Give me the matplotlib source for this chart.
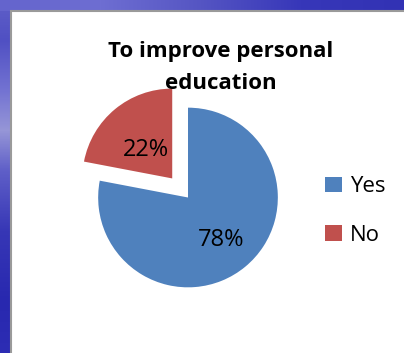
import numpy as np
import matplotlib.pyplot as plt
from matplotlib.patches import Rectangle

plt.rcParams['font.family'] = ['Open Sans', 'DejaVu Sans']

# data
labels = ["Yes", "No"]
shares = [78, 22]
colors = ["#4F81BD", "#C0504D"]
explode = [0, 0.27]
label_dist = [0.57, 0.46]
title_lines = ["To improve personal", "education"]

W, H = 404, 353
fig = plt.figure(figsize=(W / 100, H / 100), dpi=100)

# slide background: blue gradient border behind the white chart area
bg = fig.add_axes([0, 0, 1, 1])
bg.set_xlim(0, W)
bg.set_ylim(H, 0)
bg.axis("off")
ys = np.arange(H)
xs = np.arange(W)
left_stops_y = [0, 40, 90, 130, 170, 230, 300, H]
left_stops_c = [(95, 95, 200), (80, 80, 195), (115, 115, 210), (150, 150, 215),
                (95, 95, 200), (55, 55, 182), (40, 40, 175), (45, 45, 180)]
top_stops_x = [0, 100, 200, 300, W]
top_stops_c = [(100, 100, 205), (110, 110, 210), (85, 85, 195), (55, 55, 185), (50, 50, 180)]
left_col = np.stack([np.interp(ys, left_stops_y, [c[i] for c in left_stops_c]) for i in range(3)], -1)
top_row = np.stack([np.interp(xs, top_stops_x, [c[i] for c in top_stops_c]) for i in range(3)], -1)
img = np.where(ys[:, None, None] < 11, top_row[None, :, :], left_col[:, None, :]) / 255
bg.imshow(img, extent=(0, W, H, 0), aspect="auto")
bg.add_patch(Rectangle((11, 11), W, H, facecolor="white", edgecolor="#9a9a9a", lw=1.5))

# pie
cx, cy, side = 188, 197.5, 220
ax = fig.add_axes([(cx - side / 2) / W, (H - cy - side / 2) / H, side / W, side / H])
wedges, texts, autotexts = ax.pie(
    shares, colors=colors, explode=explode, startangle=90, counterclock=False,
    radius=0.98, autopct="%d%%", pctdistance=0.5,
    textprops={"fontsize": 17, "color": "black"})
# move the percentages out a little, per slice
for w, t, d in zip(wedges, autotexts, label_dist):
    ang = np.deg2rad((w.theta1 + w.theta2) / 2)
    t.set_position((w.center[0] + d * w.r * np.cos(ang), w.center[1] + d * w.r * np.sin(ang)))
    t.set_va("center_baseline")
ax.set_xlim(-1.2, 1.2)
ax.set_ylim(-1.2, 1.2)
ax.set_aspect("equal")
ax.axis("off")

fig.text(221 / W, 1 - 57 / H, title_lines[0], ha="center", va="baseline",
         fontsize=16, fontweight="bold")
fig.text(221 / W, 1 - 89 / H, title_lines[1], ha="center", va="baseline",
         fontsize=16, fontweight="bold")

fig.legend(wedges, labels, loc="upper left", bbox_to_anchor=(325 / W, 1 - 176 / H),
           frameon=False, fontsize=16, handlelength=0.77, handleheight=0.68,
           handletextpad=0.36, labelspacing=1.25, borderpad=0, borderaxespad=0)

fig.savefig("out.png", dpi=100)
